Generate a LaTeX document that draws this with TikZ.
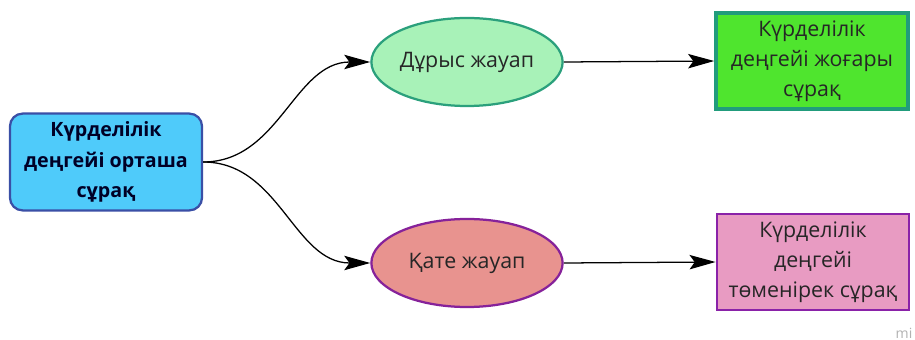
\documentclass[tikz,border=0pt]{standalone}
\usepackage{fontspec}
\setmainfont{Open Sans}
\usetikzlibrary{shapes.geometric,arrows.meta}

\definecolor{startfill}{HTML}{4FCBFA}
\definecolor{startdraw}{HTML}{3A4FA6}
\definecolor{goodfill}{HTML}{A8F2B8}
\definecolor{gooddraw}{HTML}{2BA07C}
\definecolor{badfill}{HTML}{E8938F}
\definecolor{baddraw}{HTML}{86229A}
\definecolor{highfill}{HTML}{4FE52E}
\definecolor{highdraw}{HTML}{219C7C}
\definecolor{lowfill}{HTML}{E89BC2}
\definecolor{lowdraw}{HTML}{8A22A8}

\tikzset{
  every node/.style={font=\fontsize{15.2}{21.5}\selectfont, align=center, text=black!85},
  startbox/.style={draw=startdraw, fill=startfill, line width=1.6pt, rounded corners=9pt,
    minimum width=4.8cm, minimum height=2.42cm, font=\fontsize{14}{21.5}\selectfont\bfseries, text=black!85!blue},
  answer/.style={ellipse, line width=1.6pt, inner sep=0pt, minimum width=4.78cm, minimum height=2.2cm},
  levelbox/.style={line width=2pt, minimum width=4.8cm, minimum height=2.4cm},
  flow/.style={-{Stealth[length=6.5mm,width=3.6mm,inset=1.3mm]}, line width=0.9pt}
}

\begin{document}
\begin{tikzpicture}[x=0.025cm, y=-0.025cm]
  \useasboundingbox (0,0) rectangle (915,340);

  \node[startbox] (start) at (106,162) {Күрделілік\\деңгейі орташа\\сұрақ};

  \node[answer, draw=gooddraw, fill=goodfill] (right) at (467,62) {Дұрыс жауап};
  \node[answer, draw=baddraw, fill=badfill] (wrong) at (467,263) {Қате жауап};

  \node[levelbox, draw=highdraw, fill=highfill, line width=2.6pt] (high) at (812,61)
    {Күрделілік\\деңгейі жоғары\\сұрақ};
  \node[levelbox, draw=lowdraw, fill=lowfill] (low) at (813,262)
    {Күрделілік\\деңгейі\\төменірек сұрақ};

  \draw[flow] (start.east) to[out=0, in=180] (right.west);
  \draw[flow] (start.east) to[out=0, in=180] (wrong.west);
  \draw[flow] (right.east) -- (high.west);
  \draw[flow] (wrong.east) -- (low.west);

  \node[text=black!30, font=\fontsize{10}{12}\selectfont, anchor=east, inner sep=1pt] (mark) at (914,333) {mi};
\end{tikzpicture}
\end{document}
